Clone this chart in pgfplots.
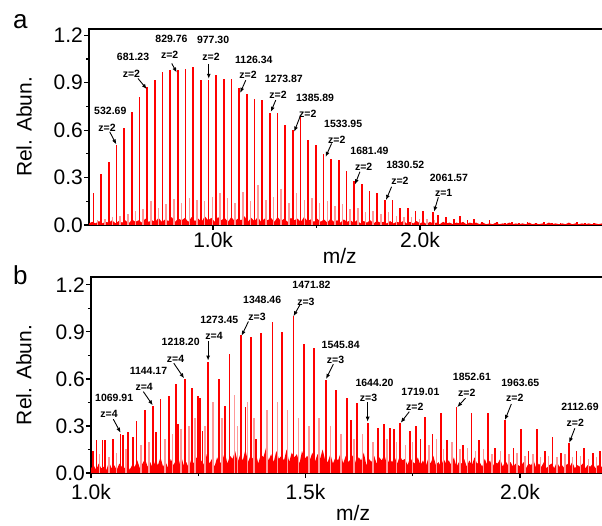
\documentclass[border=0pt]{standalone}
\usepackage{fontspec}
\setmainfont{Liberation Sans}
\usepackage{pgfplots}
\pgfplotsset{compat=1.18}
\usetikzlibrary{arrows.meta}

\tikzset{
  ann/.style={font=\fontsize{10.5}{12}\selectfont\bfseries, inner sep=0pt},
  arr/.style={-{Latex[length=5pt,width=4pt]}, line width=0.9pt, black},
}
\pgfplotsset{
  spec/.style={
    scale only axis,
    clip mode=individual,
    ymin=0,
    ytick={0,0.3,0.6,0.9,1.2},
    minor y tick num=1,
    minor x tick num=1,
    xtick pos=bottom, ytick pos=left,
    tick align=outside,
    major tick length=5pt, minor tick length=3pt,
    every tick/.style={black, line width=1.2pt},
    axis line style={line width=1.5pt},
    ticklabel style={font=\fontsize{21}{24}\selectfont},
    yticklabel style={inner sep=1pt, /pgf/number format/fixed, /pgf/number format/fixed zerofill, /pgf/number format/precision=1},
    xticklabel style={inner sep=2pt},
    /pgf/number format/assume math mode=true,
    label style={font=\fontsize{21}{24}\selectfont},
    ylabel={Rel. Abun.},
    xlabel={m/z},
  },
  peak/.style={ycomb, draw=red, line width=1.8pt},
  weak/.style={ycomb, draw=red!40, line width=1.5pt},
}

\begin{document}
\begin{tikzpicture}

% ---------- panel a ----------
\begin{axis}[spec,
  at={(89pt,300pt)}, anchor=south west,
  width=515pt, height=196pt,
  xmin=400, xmax=2890, ymax=1.24,
  xtick={1000,2000}, xticklabels={1.0k,2.0k},
  ylabel style={at={(axis description cs:-0.126,0.5)}, anchor=center},
  xlabel style={at={(axis description cs:0.487,-0.158)}, anchor=center},
]
% baseline grass
\addplot[fill=red, draw=none] coordinates {
(400,.01)(416,.02)(432,.01)(448,.025)(464,.01)(480,.02)(496,.015)(512,.03)(528,.01)(544,.025)
(560,.015)(576,.03)(592,.01)(608,.035)(624,.02)(640,.03)(656,.015)(672,.04)(688,.02)(704,.03)
(720,.02)(736,.045)(752,.02)(768,.035)(784,.025)(800,.05)(816,.02)(832,.04)(848,.03)(864,.045)
(880,.02)(896,.05)(912,.025)(928,.04)(944,.02)(960,.055)(976,.03)(992,.045)(1008,.02)(1024,.05)
(1040,.03)(1056,.045)(1072,.02)(1088,.05)(1104,.025)(1120,.04)(1136,.03)(1152,.055)(1168,.02)(1184,.045)
(1200,.025)(1216,.05)(1232,.02)(1248,.04)(1264,.03)(1280,.045)(1296,.02)(1312,.05)(1328,.025)(1344,.04)
(1360,.02)(1376,.045)(1392,.03)(1408,.04)(1424,.02)(1440,.05)(1456,.025)(1472,.035)(1488,.02)(1504,.04)
(1520,.02)(1536,.035)(1552,.015)(1568,.04)(1584,.02)(1600,.03)(1616,.015)(1632,.035)(1648,.02)(1664,.03)
(1680,.015)(1696,.03)(1712,.01)(1728,.025)(1744,.015)(1760,.03)(1776,.01)(1792,.025)(1808,.015)(1824,.02)
(1840,.01)(1856,.025)(1872,.01)(1888,.02)(1904,.015)(1920,.025)(1936,.01)(1952,.02)(1968,.01)(1984,.025)
(2000,.01)(2016,.02)(2032,.005)(2048,.02)(2064,.01)(2080,.015)(2096,.005)(2112,.02)(2128,.01)(2144,.015)
(2160,.005)(2176,.015)(2192,.01)(2208,.02)(2224,.005)(2240,.015)(2256,.01)(2272,.015)(2288,.005)(2304,.015)
(2320,.005)(2336,.01)(2352,.005)(2368,.015)(2384,.005)(2400,.01)(2416,.005)(2432,.015)(2448,.005)(2464,.01)
(2480,.005)(2496,.01)(2512,.005)(2528,.015)(2544,.005)(2560,.01)(2576,.005)(2592,.01)(2608,.005)(2624,.015)
(2640,.005)(2656,.01)(2672,.005)(2688,.01)(2704,.005)(2720,.015)(2736,.005)(2752,.01)(2768,.005)(2784,.01)
(2800,.005)(2816,.01)(2832,.005)(2848,.01)(2864,.005)(2880,.01)
} \closedcycle;
% minor series
\addplot[weak] coordinates {
(440,.03)(477,.04)(514,.05)(551,.06)(588,.07)(625,.09)(662,.10)(699,.15)(736,.11)(773,.13)
(811,.165)(848,.14)(885,.17)(922,.16)(959,.15)(996,.18)(1033,.20)(1070,.17)(1107,.14)(1144,.21)
(1181,.15)(1218,.25)(1255,.16)(1292,.18)(1329,.23)(1366,.14)(1404,.20)(1441,.16)(1478,.17)(1515,.14)
(1552,.15)(1589,.12)(1626,.13)(1663,.10)(1700,.11)(1737,.08)(1774,.09)(1811,.07)(1849,.08)(1886,.06)
(1923,.05)(1960,.05)(1997,.04)(2034,.04)(2071,.03)
};
% main series
\addplot[peak] coordinates {
(421.5,0.20)(458.6,0.32)(495.6,0.40)(532.7,0.505)(569.8,0.615)(606.8,0.716)(643.9,0.81)(681.0,0.87)
(718.0,0.92)(755.1,0.97)(792.2,0.98)(829.3,0.98)(866.4,0.99)(903.4,1.00)(940.5,0.915)(977.6,0.92)
(1014.7,0.95)(1051.7,0.925)(1088.8,0.925)(1125.9,0.865)(1163.0,0.83)(1200.0,0.80)(1237.1,0.79)
(1274.2,0.71)(1311.3,0.71)(1348.4,0.63)(1385.4,0.60)(1422.5,0.69)(1459.6,0.54)(1496.7,0.505)
(1533.8,0.45)(1570.8,0.42)(1607.9,0.41)(1645.0,0.34)(1682.1,0.28)(1719.1,0.26)(1756.2,0.215)
(1793.3,0.20)(1830.4,0.16)(1867.4,0.16)(1904.5,0.11)(1941.6,0.11)(1978.7,0.09)(2015.8,0.09)
(2061.6,0.085)(2089,0.063)(2126,0.05)(2163,0.04)(2193,0.06)(2230,0.03)(2263,0.04)(2300,0.02)
(2336,0.03)(2372,0.02)(2410,0.015)(2445,0.02)(2480,0.015)(2520,0.02)(2560,0.015)(2600,0.02)
(2640,0.015)(2680,0.015)(2720,0.015)(2760,0.02)(2800,0.015)(2840,0.01)
};
% annotations
\node[ann] at (axis cs:503,0.72) {532.69};
\node[ann] at (axis cs:487,0.615) {z=2};
\draw[arr] (axis cs:500,0.59) -- (axis cs:532,0.51);
\node[ann] at (axis cs:613,1.063) {681.23};
\node[ann] at (axis cs:605,0.954) {z=2};
\draw[arr] (axis cs:637,0.927) -- (axis cs:679,0.86);
\node[ann] at (axis cs:799,1.175) {829.76};
\node[ann] at (axis cs:790,1.074) {z=2};
\draw[arr] (axis cs:800,1.022) -- (axis cs:824,0.965);
\node[ann] at (axis cs:1000,1.168) {977.30};
\node[ann] at (axis cs:990,1.063) {z=2};
\draw[arr] (axis cs:979,1.02) -- (axis cs:979,0.925);
\node[ann] at (axis cs:1197,1.047) {1126.34};
\node[ann] at (axis cs:1169,0.948) {z=2};
\draw[arr] (axis cs:1158,0.916) -- (axis cs:1131,0.836);
\node[ann] at (axis cs:1342,0.922) {1273.87};
\node[ann] at (axis cs:1314,0.821) {z=2};
\draw[arr] (axis cs:1303,0.79) -- (axis cs:1279,0.716);
\node[ann] at (axis cs:1493,0.804) {1385.89};
\node[ann] at (axis cs:1458,0.706) {z=2};
\draw[arr] (axis cs:1420,0.684) -- (axis cs:1392,0.59);
\node[ann] at (axis cs:1629,0.638) {1533.95};
\node[ann] at (axis cs:1598,0.541) {z=2};
\draw[arr] (axis cs:1573,0.516) -- (axis cs:1544,0.431);
\node[ann] at (axis cs:1756,0.467) {1681.49};
\node[ann] at (axis cs:1728,0.368) {z=2};
\draw[arr] (axis cs:1710,0.337) -- (axis cs:1686,0.257);
\node[ann] at (axis cs:1929,0.379) {1830.52};
\node[ann] at (axis cs:1903,0.28) {z=2};
\draw[arr] (axis cs:1863,0.242) -- (axis cs:1836,0.158);
\node[ann] at (axis cs:2140,0.299) {2061.57};
\node[ann] at (axis cs:2115,0.204) {z=1};
\draw[arr] (axis cs:2089,0.175) -- (axis cs:2068,0.084);
\end{axis}

% ---------- panel b ----------
\begin{axis}[spec,
  at={(91pt,52pt)}, anchor=south west,
  width=513pt, height=196pt,
  xmin=1000, xmax=2196, ymax=1.25,
  xtick={1000,1500,2000}, xticklabels={1.0k,1.5k,2.0k},
  xticklabel style={yshift=-4pt},
  ylabel style={at={(axis description cs:-0.131,0.5)}, anchor=center},
  xlabel style={at={(axis description cs:0.511,-0.204)}, anchor=center},
]
% baseline grass
\addplot[fill=red, draw=none] coordinates {
(1000,.03)(1006,.05)(1012,.02)(1018,.06)(1024,.03)(1030,.04)(1036,.02)(1042,.07)(1048,.03)(1054,.05)
(1060,.02)(1066,.06)(1072,.04)(1078,.03)(1084,.07)(1090,.02)(1096,.05)
(1102,.04)(1108,.08)(1114,.03)(1120,.06)(1126,.09)(1132,.04)(1138,.07)(1144,.03)(1150,.08)(1156,.05)
(1162,.10)(1168,.04)(1174,.07)(1180,.03)(1186,.09)(1192,.05)(1198,.08)(1204,.04)(1210,.11)(1216,.05)
(1222,.07)(1228,.03)(1234,.09)(1240,.06)(1246,.10)(1252,.04)(1258,.08)(1264,.05)(1270,.12)(1276,.06)
(1282,.09)(1288,.04)(1294,.10)(1300,.06)
(1306,.08)(1312,.13)(1318,.06)(1324,.11)(1330,.09)(1336,.14)(1342,.07)(1348,.12)(1354,.08)(1360,.15)
(1366,.07)(1372,.11)(1378,.09)(1384,.13)(1390,.06)(1396,.12)(1402,.10)(1408,.16)(1414,.08)(1420,.12)
(1426,.07)(1432,.14)(1438,.09)(1444,.11)(1450,.08)(1456,.15)(1462,.07)(1468,.13)(1474,.10)(1480,.12)
(1486,.06)(1492,.14)(1498,.09)(1504,.11)(1510,.08)(1516,.13)(1522,.07)(1528,.12)(1534,.09)(1540,.15)
(1546,.08)
(1552,.07)(1558,.12)(1564,.06)(1570,.10)(1576,.08)(1582,.13)(1588,.06)(1594,.11)(1600,.07)(1606,.09)
(1612,.12)(1618,.06)(1624,.10)(1630,.08)(1636,.13)(1642,.05)(1648,.09)(1654,.07)(1660,.11)(1666,.06)
(1672,.10)(1678,.08)(1684,.12)(1690,.05)(1696,.09)(1702,.07)(1708,.10)(1714,.06)(1720,.11)(1726,.08)
(1732,.09)(1738,.05)(1744,.10)(1750,.07)
(1756,.06)(1762,.10)(1768,.05)(1774,.08)(1780,.04)(1786,.09)(1792,.06)(1798,.11)(1804,.05)(1810,.07)
(1816,.04)(1822,.09)(1828,.06)(1834,.08)(1840,.05)(1846,.10)(1852,.04)(1858,.07)(1864,.06)(1870,.09)
(1876,.04)(1882,.08)(1888,.05)(1894,.10)(1900,.06)(1906,.07)(1912,.04)(1918,.09)(1924,.05)(1930,.08)
(1936,.04)(1942,.07)(1948,.06)(1954,.09)(1960,.04)(1966,.08)(1972,.05)(1978,.07)(1984,.04)(1990,.06)
(1996,.05)
(2002,.04)(2008,.07)(2014,.03)(2020,.06)(2026,.05)(2032,.08)(2038,.03)(2044,.06)(2050,.04)(2056,.07)
(2062,.03)(2068,.05)(2074,.06)(2080,.03)(2086,.07)(2092,.04)(2098,.05)(2104,.03)(2110,.06)(2116,.04)
(2122,.07)(2128,.03)(2134,.05)(2140,.04)(2146,.06)(2152,.03)(2158,.05)(2164,.04)(2170,.06)(2176,.03)
(2182,.05)(2188,.04)(2194,.04)
} \closedcycle;
% minor peaks
\addplot[weak] coordinates {
(1020,.12)(1042,.10)(1060,.13)(1082,.15)(1116,.18)(1135,.20)(1172,.22)(1190,.25)(1210,.28)(1228,.30)
(1242,.35)(1266,.30)(1284,.45)(1305,.35)(1335,.50)(1342,.30)(1365,.45)(1380,.35)(1410,.40)(1435,.45)
(1458,.40)(1484,.35)(1508,.30)(1532,.35)(1558,.30)(1583,.25)(1613,.22)(1633,.25)(1658,.20)(1690,.22)
(1712,.20)(1733,.18)(1750,.20)(1788,.18)(1806,.22)(1822,.15)(1842,.20)(1860,.15)(1878,.16)(1896,.14)
(1915,.15)(1935,.12)(1955,.14)(1975,.12)(1993,.13)(2012,.11)(2030,.12)(2048,.10)(2067,.11)(2086,.10)
(2105,.12)(2123,.10)(2141,.11)(2160,.09)(2178,.10)
};
% main peaks
\addplot[peak] coordinates {
(1004,0.14)(1013,0.21)(1027,0.21)(1033,0.21)(1051,0.22)(1069,0.25)(1075,0.24)(1087,0.26)(1097,0.23)
(1106,0.33)(1126,0.40)(1144,0.43)(1151,0.26)(1162,0.47)(1182,0.49)(1198,0.565)(1203,0.31)(1219,0.60)
(1236,0.54)(1249,0.49)(1254,0.48)(1260,0.27)(1273,0.71)(1298,0.60)(1312,0.43)(1323,0.76)(1350,0.88)
(1360,0.42)(1373,0.87)(1385,0.22)(1396,0.89)(1423,0.965)(1446,0.90)(1472,1.00)(1497,0.82)(1520,0.80)
(1547,0.595)(1571,0.53)(1596,0.48)(1607,0.34)(1621,0.445)(1646,0.32)(1670,0.285)(1683,0.31)(1697,0.29)
(1706,0.28)(1720,0.32)(1744,0.27)(1757,0.30)(1768,0.22)(1779,0.36)(1796,0.25)(1816,0.38)(1830,0.21)
(1852,0.42)(1868,0.18)(1887,0.38)(1905,0.21)(1926,0.38)(1942,0.16)(1965,0.335)(1985,0.16)(2002,0.28)
(2020,0.14)(2039,0.28)(2058,0.14)(2076,0.232)(2096,0.13)(2114,0.19)(2132,0.14)(2150,0.16)(2170,0.13)
(2186,0.14)
};
% annotations
\node[ann] at (axis cs:1054,0.477) {1069.91};
\node[ann] at (axis cs:1042,0.374) {z=4};
\draw[arr] (axis cs:1052,0.343) -- (axis cs:1069,0.257);
\node[ann] at (axis cs:1134,0.651) {1144.17};
\node[ann] at (axis cs:1124,0.551) {z=4};
\draw[arr] (axis cs:1122,0.519) -- (axis cs:1144,0.432);
\node[ann] at (axis cs:1209,0.838) {1218.20};
\node[ann] at (axis cs:1197,0.728) {z=4};
\draw[arr] (axis cs:1193,0.70) -- (axis cs:1217,0.604);
\node[ann] at (axis cs:1299,0.976) {1273.45};
\node[ann] at (axis cs:1287,0.876) {z=4};
\draw[arr] (axis cs:1273,0.84) -- (axis cs:1273,0.717);
\node[ann] at (axis cs:1399,1.104) {1348.46};
\node[ann] at (axis cs:1387,0.997) {z=3};
\draw[arr] (axis cs:1367,0.966) -- (axis cs:1351,0.875);
\node[ann] at (axis cs:1514,1.20) {1471.82};
\node[ann] at (axis cs:1501,1.093) {z=3};
\draw[arr] (axis cs:1487,1.072) -- (axis cs:1472,1.0);
\node[ann] at (axis cs:1582,0.817) {1545.84};
\node[ann] at (axis cs:1570,0.721) {z=3};
\draw[arr] (axis cs:1565,0.694) -- (axis cs:1548,0.60);
\node[ann] at (axis cs:1661,0.572) {1644.20};
\node[ann] at (axis cs:1647,0.477) {z=3};
\draw[arr] (axis cs:1645,0.45) -- (axis cs:1645,0.327);
\node[ann] at (axis cs:1768,0.519) {1719.01};
\node[ann] at (axis cs:1755,0.423) {z=2};
\draw[arr] (axis cs:1742,0.391) -- (axis cs:1722,0.32);
\node[ann] at (axis cs:1888,0.611) {1852.61};
\node[ann] at (axis cs:1876,0.512) {z=2};
\draw[arr] (axis cs:1873,0.477) -- (axis cs:1854,0.42);
\node[ann] at (axis cs:2001,0.572) {1963.65};
\node[ann] at (axis cs:1988,0.477) {z=2};
\draw[arr] (axis cs:1980,0.44) -- (axis cs:1965,0.338);
\node[ann] at (axis cs:2140,0.423) {2112.69};
\node[ann] at (axis cs:2129,0.317) {z=2};
\draw[arr] (axis cs:2128,0.285) -- (axis cs:2115,0.193);
\end{axis}

\node[anchor=base west, inner sep=0pt, font=\fontsize{26}{30}\selectfont] at (13pt,496pt) {a};
\node[anchor=base west, inner sep=0pt, font=\fontsize{26}{30}\selectfont] at (13pt,240pt) {b};

\pgfresetboundingbox
\useasboundingbox (0pt,0pt) rectangle (602pt,525pt);
\end{tikzpicture}
\end{document}
